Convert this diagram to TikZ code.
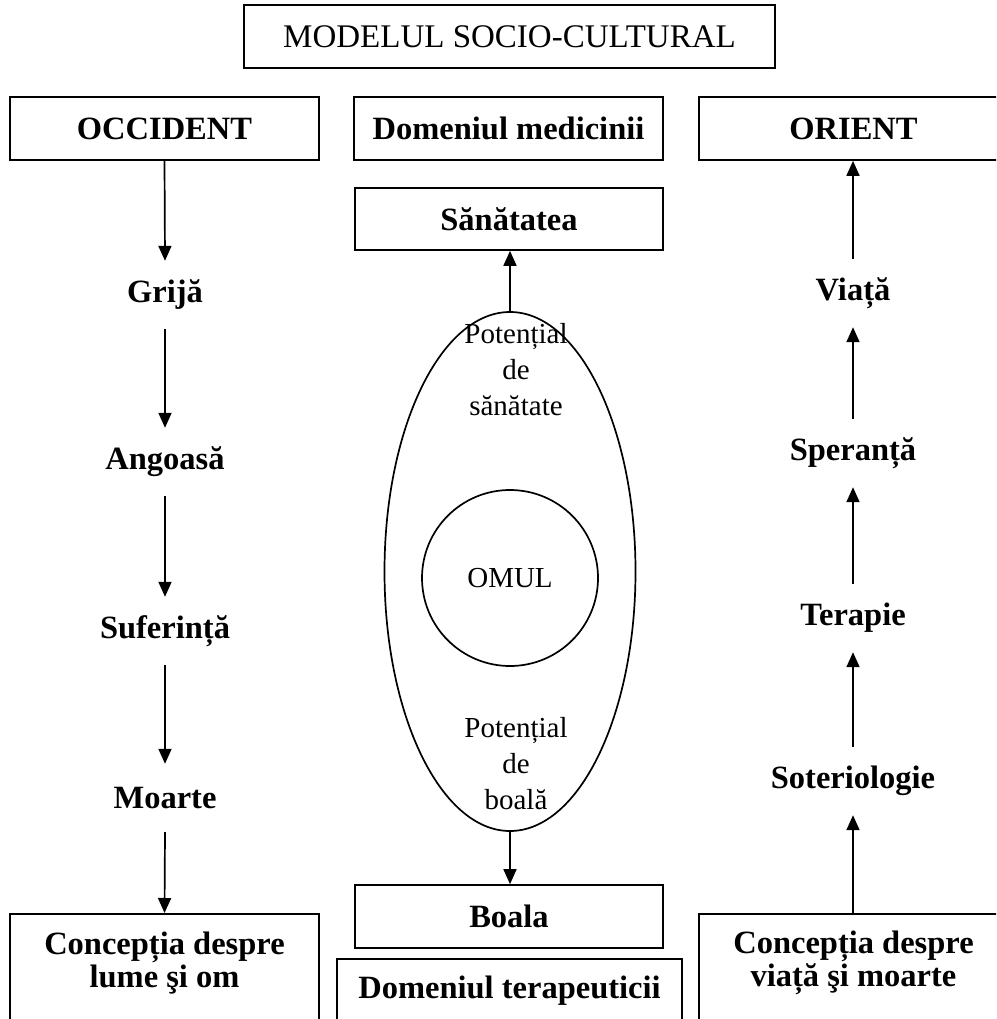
\documentclass[tikz,border=0pt]{standalone}
\usepackage{fontspec}
\setmainfont{Liberation Serif}
\usetikzlibrary{arrows.meta,shapes.geometric}
\begin{document}
\begin{tikzpicture}[x=1pt,y=-1pt,
  frame/.style={draw, line width=1.7pt, minimum width=309pt, minimum height=63pt,
    inner sep=0pt, font=\bfseries\fontsize{32.5}{35}\selectfont},
  stage/.style={inner sep=0pt, minimum height=68pt,
    font=\bfseries\fontsize{32.5}{35}\selectfont},
  caption/.style={inner sep=0pt, align=center,
    font=\bfseries\fontsize{32.5}{33}\selectfont},
  plain/.style={inner sep=0pt, align=center, font=\fontsize{29}{36}\selectfont},
  flow/.style={line width=1.7pt, -{Triangle[length=15pt,width=13pt]}}]
\useasboundingbox (0,0) rectangle (996,1019);
\clip (0,0) rectangle (996,1019);

% title
\node[frame, minimum width=531pt, font=\fontsize{33}{35}\selectfont] (title)
  at (509.5,36.5) {MODELUL SOCIO-CULTURAL};

% column heads
\node[frame] (occ) at (164.5,128.5) {OCCIDENT};
\node[frame] (med) at (508.5,128.5) {Domeniul medicinii};
\node[frame] (ori) at (853.5,128.5) {ORIENT};

% western chain
\node[stage] (grija) at (165,295) {Grijă};
\node[stage] (ango)  at (165,462) {Angoasă};
\node[stage] (sufer) at (165,631) {Suferință};
\node[stage] (moar)  at (165,798) {Moarte};
\node[frame, minimum height=160pt, anchor=north] (lbox) at (164.5,913) {};
\node[caption] (ltext) at (164.5,963) {Concepția despre\\lume şi om};

% eastern chain
\node[stage] (viata) at (853,293) {Viață};
\node[stage] (sper)  at (853,453) {Speranță};
\node[stage] (terap) at (853,618) {Terapie};
\node[stage] (soter) at (853,781) {Soteriologie};
\node[frame, minimum height=160pt, anchor=north] (rbox) at (853.5,913) {};
\node[caption] (rtext) at (853.5,963) {Concepția despre\\viață şi moarte};

% medical domain
\node[frame, minimum width=308pt, minimum height=62pt] (san) at (509,219) {Sănătatea};
\node[draw, line width=1.7pt, ellipse, minimum width=251pt, minimum height=519pt,
  inner sep=0pt] (ell) at (510,571.5) {};
\node[draw, line width=1.7pt, circle, minimum size=176pt, inner sep=0pt,
  font=\fontsize{29}{35}\selectfont] (omul) at (510,578) {OMUL};
\node[plain] (pots) at (516,370) {Potențial\\de\\sănătate};
\node[plain] (potb) at (516,764) {Potențial\\de\\boală};
\node[frame, minimum width=308pt] (boala) at (509,916.5) {Boala};
\node[frame, minimum width=345pt, minimum height=120pt, anchor=north] (tbox)
  at (509.5,958) {};
\node[caption] (ttext) at (509.5,991) {Domeniul terapeuticii};

% connectors
\draw[flow] (occ.south) -- (grija.north);
\draw[flow] (grija.south) -- (ango.north);
\draw[flow] (ango.south) -- (sufer.north);
\draw[flow] (sufer.south) -- (moar.north);
\draw[flow] (moar.south) -- (lbox.north);

\draw[flow] (rbox.north -| soter) -- (soter.south);
\draw[flow] (soter.north) -- (terap.south);
\draw[flow] (terap.north) -- (sper.south);
\draw[flow] (sper.north) -- (viata.south);
\draw[flow] (viata.north) -- (viata.north |- ori.south);

\draw[flow] (ell.north) -- (ell.north |- san.south);
\draw[flow] (ell.south) -- (ell.south |- boala.north);
\end{tikzpicture}
\end{document}
